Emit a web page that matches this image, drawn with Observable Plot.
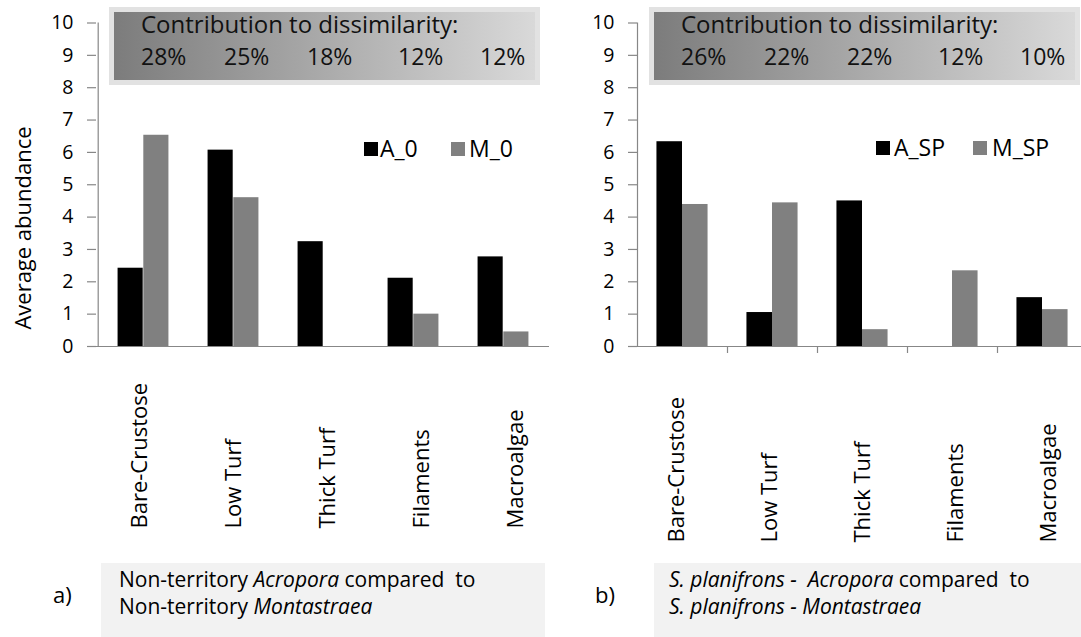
<!DOCTYPE html>
<html><head><meta charset="utf-8">
<script src="https://cdn.jsdelivr.net/npm/d3@7"></script>
<script src="https://cdn.jsdelivr.net/npm/@observablehq/plot@0.6"></script>
<style>
html,body{margin:0;padding:0;background:#fff;}
#root{position:relative;width:1081px;height:637px;overflow:hidden;font-family:"Open Sans",sans-serif;color:#000;}
</style></head><body><div id="root"></div>
<script>
// ---- data ----
const categories = ["Bare-Crustose", "Low Turf", "Thick Turf", "Filaments", "Macroalgae"];
const seriesNamesA = ["A_0", "M_0"];
const seriesNamesB = ["A_SP", "M_SP"];
const panelA_A0 = [2.42, 6.07, 3.24, 2.11, 2.77];
const panelA_M0 = [6.53, 4.60, 0, 1.00, 0.45];
const panelB_ASP = [6.33, 1.05, 4.50, 0, 1.51];
const panelB_MSP = [4.39, 4.44, 0.52, 2.34, 1.14];
const contribA = ["28%", "25%", "18%", "12%", "12%"];
const contribB = ["26%", "22%", "22%", "12%", "10%"];
const yTicks = [0, 1, 2, 3, 4, 5, 6, 7, 8, 9, 10];
const yLabel = "Average abundance";
const boxTitle = "Contribution to dissimilarity:";
const panelLetters = ["a)", "b)"];

const FONT = "'Open Sans', sans-serif";
const root = document.getElementById("root");
const NS = "http://www.w3.org/2000/svg";

function mainPanel({left, width, marginRight, values, names, catTicks}) {
  const rows = [];
  categories.forEach((c, i) => {
    rows.push({cat: c, s: names[0], v: values[0][i]});
    rows.push({cat: c, s: names[1], v: values[1][i]});
  });
  const marginLeft = 96;
  const bw = (width - marginLeft - marginRight) / categories.length;
  const half = bw / 2;
  const barW = bw * 0.284;
  const marks = [
    Plot.barY(rows.filter(d => d.s === names[0]), {x: "cat", y: "v", fill: "#000", insetLeft: half - barW, insetRight: half}),
    Plot.barY(rows.filter(d => d.s === names[1]), {x: "cat", y: "v", fill: "#808080", insetLeft: half, insetRight: half - barW}),
    Plot.ruleY([0], {stroke: "#878787", strokeWidth: 1.2, insetLeft: -9}),
    Plot.ruleX([categories[0]], {x: d => d, dx: -half, y1: 0, y2: 10, stroke: "#878787", strokeWidth: 1.2}),
    Plot.axisY({ticks: yTicks, tickSize: 9, tickPadding: 14, stroke: "#878787", strokeWidth: 1.2, fill: "#000", fontSize: 19.5, label: null, tickFormat: d => String(d)})
  ];
  if (catTicks) marks.push(Plot.ruleX(categories.slice(1), {x: d => d, dx: -half, y1: 0, y2: 0, insetBottom: -7, stroke: "#878787", strokeWidth: 1.2}));
  const svg = Plot.plot({
    width, height: 360, marginLeft, marginRight, marginTop: 22.5, marginBottom: 14,
    style: {background: "transparent", overflow: "visible", fontFamily: FONT, fontSize: "19.5px"},
    x: {type: "band", domain: categories, padding: 0, axis: null},
    y: {domain: [0, 10], axis: null},
    marks
  });
  svg.style.left = left + "px"; svg.style.top = "0px"; svg.style.position = "absolute";
  root.appendChild(svg);
}

function labelRow({left, bottom, range}) {
  const h = 200;
  const svg = Plot.plot({
    width: 600, height: h, margin: 0,
    style: {background: "transparent", overflow: "visible", fontFamily: FONT},
    x: {type: "band", domain: categories, range, axis: null},
    marks: [Plot.text(categories, {x: d => d, frameAnchor: "bottom", rotate: -90, textAnchor: "start", lineAnchor: "bottom", fontSize: 22, fill: "#000"})]
  });
  svg.style.left = left + "px"; svg.style.top = (bottom - h) + "px"; svg.style.position = "absolute";
  root.appendChild(svg);
}

// ---- annotation overlay (boxes, legends, captions) ----
const ov = document.createElementNS(NS, "svg");
ov.setAttribute("width", 1081); ov.setAttribute("height", 637);
ov.style.left = "0px"; ov.style.top = "0px"; ov.style.position = "absolute";
ov.style.fontFamily = FONT;
ov.innerHTML = `<defs><linearGradient id="g" x1="0" x2="1" y1="0" y2="0">
<stop offset="0" stop-color="#7c7c7c"/><stop offset="1" stop-color="#d9d9d9"/></linearGradient></defs>`;
root.appendChild(ov);
function el(tag, attrs, text) {
  const e = document.createElementNS(NS, tag);
  for (const k in attrs) e.setAttribute(k, attrs[k]);
  if (text != null) e.textContent = text;
  ov.appendChild(e);
  return e;
}
function contribBox(off, pcts) {
  el("rect", {x: 109 + off, y: 7, width: 431, height: 78, fill: "#e2e2e2"});
  el("rect", {x: 114 + off, y: 12, width: 421, height: 68, fill: "url(#g)"});
  el("text", {x: 141 + off, y: 33, "font-size": 24, fill: "#111"}, boxTitle);
  const starts = [141, 224, 307, 398, 480];
  pcts.forEach((p, i) => el("text", {x: starts[i] + off, y: 65, "font-size": 23, fill: "#111"}, p));
}
function legend(pos, names) {
  el("rect", {x: pos[0], y: pos[4], width: 14, height: 14, fill: "#000"});
  el("text", {x: pos[1], y: pos[4] + 15, "font-size": 23}, names[0]);
  el("rect", {x: pos[2], y: pos[4], width: 14, height: 14, fill: "#808080"});
  el("text", {x: pos[3], y: pos[4] + 15, "font-size": 23}, names[1]);
}

contribBox(0, contribA);
contribBox(540, contribB);
legend([364, 380, 451, 469, 142], seriesNamesA);
legend([876, 894, 973, 992, 141], seriesNamesB);

// y axis title
el("text", {x: 0, y: 0, "font-size": 22, "text-anchor": "middle", transform: "translate(31,228) rotate(-90)"}, yLabel);

// captions
el("rect", {x: 101, y: 563, width: 444, height: 80, fill: "#f2f2f2"});
el("rect", {x: 654, y: 563, width: 440, height: 80, fill: "#f2f2f2"});
el("text", {x: 53, y: 603, "font-size": 22}, panelLetters[0]);
el("text", {x: 595, y: 603, "font-size": 22}, panelLetters[1]);
const capA1 = el("text", {x: 119, y: 587, "font-size": 21, style: "white-space:pre"});
capA1.innerHTML = `Non-territory <tspan font-style="italic">Acropora</tspan> compared  to`;
const capA2 = el("text", {x: 119, y: 614, "font-size": 21, style: "white-space:pre"});
capA2.innerHTML = `Non-territory <tspan font-style="italic">Montastraea</tspan>`;
const capB1 = el("text", {x: 669, y: 587, "font-size": 21, style: "white-space:pre"});
capB1.innerHTML = `<tspan font-style="italic">S. planifrons -  Acropora</tspan> compared  to`;
const capB2 = el("text", {x: 669, y: 614, "font-size": 21, style: "white-space:pre", "font-style": "italic"});
capB2.textContent = `S. planifrons - Montastraea`;

// ---- plots ----
mainPanel({left: 0, width: 553, marginRight: 4, values: [panelA_A0, panelA_M0], names: seriesNamesA, catTicks: false});
mainPanel({left: 541, width: 546, marginRight: 0, values: [panelB_ASP, panelB_MSP], names: seriesNamesB, catTicks: true});
labelRow({left: 0, bottom: 528, range: [93.35, 574.85]});
labelRow({left: 541, bottom: 542, range: [89.25, 566.75]});
</script></body></html>
